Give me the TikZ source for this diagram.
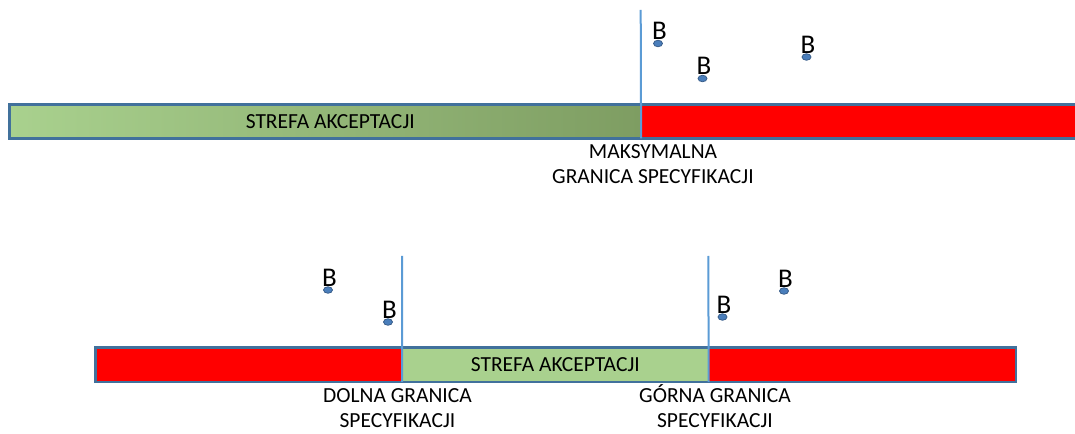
\documentclass[tikz,border=0pt]{standalone}
\usepackage{fontspec}
\setmainfont{Carlito}
\usepackage{tikz}
\usetikzlibrary{shapes.geometric,positioning}
\definecolor{barblue}{HTML}{41719C}
\definecolor{limitblue}{HTML}{5B9BD5}
\definecolor{accgreen}{HTML}{A9D18E}
\definecolor{accdark}{HTML}{7E9D62}
\definecolor{dotblue}{HTML}{4A7EBB}
\definecolor{dotedge}{HTML}{385D8A}
\newcommand\zonefont{\fontsize{21.5bp}{25bp}\selectfont}
\newcommand\markfont{\fontsize{27bp}{30bp}\selectfont}

\begin{document}
\begin{tikzpicture}[x=1bp,y=-1bp,
		zone/.style = {rectangle,inner sep=0pt,minimum height=33.8bp,anchor=west,font=\zonefont},
		frame/.style = {draw=barblue,line width=2.6bp},
		limit/.style = {draw=limitblue,line width=2bp},
		bdot/.style = {ellipse,draw=dotedge,fill=dotblue,line width=0.8bp,inner sep=0pt,
			minimum width=9bp,minimum height=6.5bp,label distance=8bp},
		blab/.style = {font=\markfont,inner sep=0pt,xshift=1.5bp},
		spec/.style = {align=center,font=\zonefont,inner sep=0pt,anchor=base}]
		\useasboundingbox (0,0) rectangle (1075,434);
		% gorna granica tylko
		\node (acc) at (9.5,121.4) [zone,minimum width=631.2bp,left color=accgreen,right color=accdark] {\hspace*{10bp}STREFA AKCEPTACJI};
		\node (rej) at (640.7,121.4) [zone,minimum width=444bp,fill=red] {};
		\draw [frame] (acc.north west) rectangle (rej.south east);
		\coordinate (lim) at (640.7,10);
		\draw [limit] (lim) -- (acc.south east);
		\node (max) at (653,184) [spec] {MAKSYMALNA\\GRANICA SPECYFIKACJI};
		\node (tb1) at (658,43.5) [bdot,label = {[blab]90:B}] {};
		\node (tb2) at (702.5,78.5) [bdot,label = {[blab]90:B}] {};
		\node (tb3) at (806.5,57) [bdot,label = {[blab]90:B}] {};
		% dolna i gorna granica
		\node (rej1) at (95.5,364.8) [zone,minimum width=306.5bp,fill=red] {};
		\node (acc2) at (402,364.8) [zone,minimum width=306.3bp,fill=accgreen] {STREFA AKCEPTACJI};
		\node (rej2) at (708.3,364.8) [zone,minimum width=307.2bp,fill=red] {};
		\draw [frame] (rej1.north west) rectangle (rej2.south east);
		\coordinate (lsl) at (402,256);
		\coordinate (usl) at (708.3,256);
		\draw [limit] (lsl) -- (acc2.south west) (usl) -- (acc2.south east);
		\node (low) at (397.5,428) [spec] {DOLNA GRANICA\\SPECYFIKACJI};
		\node (up) at (715,428) [spec] {GÓRNA GRANICA\\SPECYFIKACJI};
		\node (bb1) at (328,290) [bdot,label = {[blab]90:B}] {};
		\node (bb2) at (388,322) [bdot,label = {[blab]90:B}] {};
		\node (bb3) at (722.5,317) [bdot,label = {[blab]90:B}] {};
		\node (bb4) at (784,291) [bdot,label = {[blab]90:B}] {};
	\end{tikzpicture}
\end{document}
